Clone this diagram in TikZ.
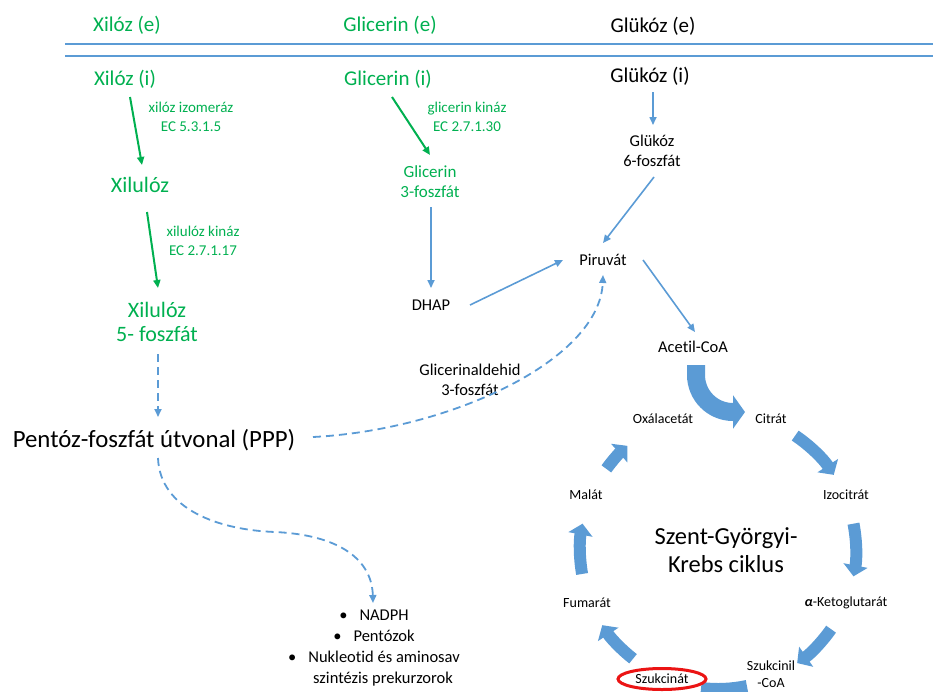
\documentclass[tikz,border=0pt]{standalone}
\usepackage{fontspec}
\setmainfont{Carlito}[Ligatures=NoCommon]
\usetikzlibrary{arrows.meta,calc,shapes.geometric}
\definecolor{gr}{RGB}{0,176,80}
\definecolor{bl}{RGB}{91,155,213}
\definecolor{rd}{RGB}{235,20,20}
\begin{document}
\begin{tikzpicture}[x=1pt,y=-1pt,
  every node/.style={inner sep=0pt, align=center},
  big/.style={font=\fontsize{21}{24}\selectfont},
  xl/.style={font=\fontsize{22}{24}\selectfont, text=gr},
  pppf/.style={font=\fontsize{24.8}{28}\selectfont},
  mid/.style={font=\fontsize{16.5}{20}\selectfont},
  gmid/.style={font=\fontsize{17}{20}\selectfont, text=gr},
  enz/.style={font=\fontsize{15}{19}\selectfont, text=gr},
  cl/.style={font=\fontsize{14}{17}\selectfont},
  garrow/.style={draw=gr, line width=2pt, -{Triangle[length=8pt,width=7pt]}},
  barrow/.style={draw=bl, line width=1.6pt, -{Triangle[length=8pt,width=7pt]}},
  darrow/.style={barrow, line width=1.8pt, dash pattern=on 8pt off 5pt},
  band/.style={draw=bl, line width=12pt},
  bandarrow/.style={band, -{Triangle[length=11pt,width=24pt]}},
  sep/.style={draw=bl, line width=2pt}]
\path[use as bounding box] (0,0) rectangle (933,691);

% separators
\draw[sep] (65,43.5) -- (933,43.5);
\draw[sep] (65,55.5) -- (933,55.5);

% outside
\node[big, text=gr] (xe) at (127,25) {Xilóz (e)};
\node[big, text=gr] (ge) at (390,25) {Glicerin (e)};
\node[big] (gle) at (653,26) {Glükóz (e)};

% inside
\node[big, text=gr] (xi) at (125,79) {Xilóz (i)};
\node[big, text=gr] (gi) at (388,79) {Glicerin (i)};
\node[big] (gli) at (650,76) {Glükóz (i)};

\node[enz] (e1) at (191,117) {xilóz izomeráz\\EC 5.3.1.5};
\node[enz] (e2) at (467,117) {glicerin kináz\\EC 2.7.1.30};
\node[enz] (e3) at (203,241) {xilulóz kináz\\EC 2.7.1.17};

\node[xl] (xil) at (140,185) {Xilulóz};
\node[gmid] (g3p) at (430,182) {Glicerin\\3-foszfát};
\node[mid] (g6p) at (652,151) {Glükóz\\6-foszfát};
\node[mid] (pir) at (603,260) {Piruvát};
\node[mid] (dhap) at (431,305) {DHAP};
\node[xl] (x5p) at (157,322) {Xilulóz\\5- foszfát};
\node[mid] (aca) at (693,347) {Acetil-CoA};
\node[mid] (ga3p) at (470,380) {Glicerinaldehid\\3-foszfát};
\node[pppf] (ppp) at (154,440) {Pentóz-foszfát útvonal (PPP)};
\node[mid, font=\fontsize{16.5}{21}\selectfont] (bul) at (374,648)
  {\textbullet\hspace{12pt}NADPH\\
   \textbullet\hspace{12pt}Pentózok\\
   \textbullet\hspace{12pt}Nukleotid és aminosav\\
   \hspace*{18pt}szintézis prekurzorok};

% green arrows
\draw[garrow] ($(xi)+(5,18)$) -- ($(xil)+(2,-20)$);
\draw[garrow] ($(xil)+(7,27)$) -- ($(x5p)+(1,-34)$);
\draw[garrow] ($(gi)+(4,18)$) -- ($(g3p)+(0,-27)$);

% blue arrows
\draw[barrow] ($(g3p)+(1,25)$) -- ($(dhap)+(0,-17)$);
\draw[barrow] ($(gli)+(3,16)$) -- ($(g6p)+(1,-26)$);
\draw[barrow] ($(g6p)+(2,26)$) -- ($(pir)+(0,-17)$);
\draw[barrow] ($(dhap)+(39,0)$) -- ($(pir)+(-40,0)$);
\draw[barrow] ($(pir)+(40,0)$) -- ($(aca)+(2,-15)$);

% dashed arrows
\draw[darrow] ($(x5p)+(1,32)$) -- ($(ppp)+(4,-23)$);
\draw[darrow] ($(ppp)+(159,-3)$) .. controls (450,430) and (600,360) .. ($(pir)+(0,15)$);
\draw[darrow] ($(ppp)+(4,18)$) .. controls (160,510) and (220,530) .. (275,532)
   .. controls (340,535) and (372,560) .. ($(bul)+(-1,-45)$);

% Krebs cycle
\coordinate (cc) at (718,550);
\node[font=\fontsize{24.5}{28}\selectfont] (kr) at (726,550) {Szent-Györgyi-\\Krebs ciklus};
\node[cl] (oxa) at (663,419) {Oxálacetát};
\node[cl] (cit) at (771,419) {Citrát};
\node[cl] (mal) at (586,495) {Malát};
\node[cl] (izo) at (846,495) {Izocitrát};
\node[cl] (fum) at (587,603) {Fumarát};
\node[cl] (akg) at (846,603) {{\bfseries\itshape α}-Ketoglutarát};
\node[cl] (szc) at (771,674) {Szukcinil\\-CoA};

\draw[bandarrow] ($(cc)+(56:138pt)$) arc[start angle=56, end angle=33, radius=138pt];
\draw[bandarrow] ($(cc)+(11:138pt)$) arc[start angle=11, end angle=-11, radius=138pt];
\draw[bandarrow] ($(cc)+(-35:138pt)$) arc[start angle=-35, end angle=-55, radius=138pt];
\draw[band] ($(cc)+(-78:139pt)$) arc[start angle=-78, end angle=-97, radius=139pt];
\draw[bandarrow] ($(cc)+(-128:138pt)$) arc[start angle=-128, end angle=-147, radius=138pt];
\draw[bandarrow] ($(cc)+(-170:138pt)$) arc[start angle=-170, end angle=-191, radius=138pt];
\draw[bandarrow] ($(cc)+(-216:138pt)$) arc[start angle=-216, end angle=-229, radius=138pt];

% Acetil-CoA into cycle
\draw[draw=bl, line width=18pt, -{Triangle[length=12pt,width=33pt]}]
  ($(aca)+(3,18)$) -- ++(0,10) arc[start angle=180, end angle=270, radius=37pt] -- ++(12,0);

\node[cl, ellipse, draw=rd, line width=3pt, fill=white, minimum width=88pt, minimum height=21pt] (szn) at (662,679) {Szukcinát};
\end{tikzpicture}
\end{document}
